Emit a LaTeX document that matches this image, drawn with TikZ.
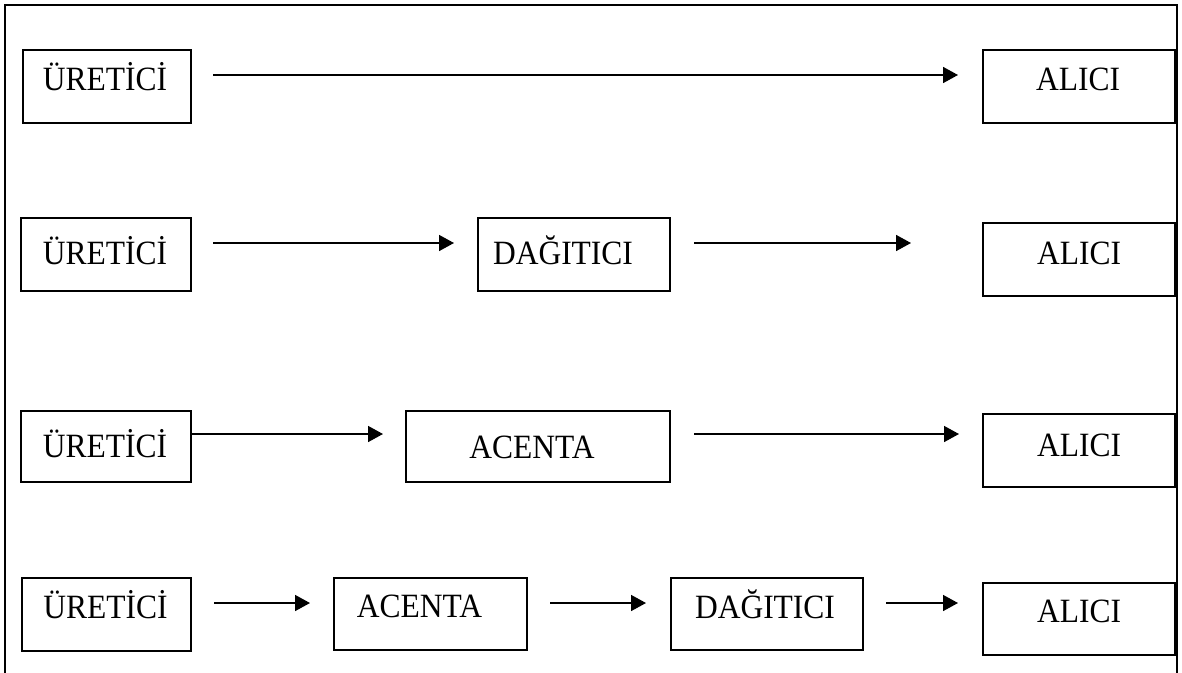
\documentclass[tikz,border=0pt]{standalone}
\usepackage{graphicx}
\usepackage{fontspec}
\setmainfont{Liberation Serif}
\usetikzlibrary{arrows.meta}
\newcommand{\boxtxt}[1]{\scalebox{1}[1.08]{#1}}
\begin{document}
\begin{tikzpicture}[x=1pt,y=-1pt,
  box/.style={draw, line width=1.5pt, inner sep=0pt, outer sep=0pt, text height=25pt,
              font=\fontsize{31.5}{36}\selectfont},
  arr/.style={line width=1.6pt, -{Triangle[length=15pt,width=16pt]}},
  frameline/.style={line width=2.6pt}]
\useasboundingbox (0,0) rectangle (1182,672);
\clip (0,0) rectangle (1182,672);
\draw[frameline] (5,700) -- (5,5) -- (1177,5) -- (1177,700);

% Row 1
\node[box, minimum width=168pt, minimum height=73pt, text depth=16.1pt] (u1) at (107,86.5) {\boxtxt{ÜRETİCİ}\hspace*{4pt}};
\node[box, minimum width=192pt, minimum height=73pt, text depth=16.1pt] (a1) at (1079,86.5) {\boxtxt{ALICI}\hspace*{2pt}};
\draw[arr] ([shift={(22,-11.5)}]u1.east) -- ([shift={(-25,-11.5)}]a1.west);

% Row 2
\node[box, minimum width=170pt, minimum height=73pt, text depth=5.1pt] (u2) at (106,254.5) {\boxtxt{ÜRETİCİ}\hspace*{2pt}};
\node[box, minimum width=192pt, minimum height=73pt, text depth=5.1pt] (d2) at (574,254.5) {\boxtxt{DAĞITICI}\hspace*{22pt}};
\node[box, minimum width=192pt, minimum height=73pt, text depth=14.1pt] (a2) at (1079,259.5) {\boxtxt{ALICI}};
\draw[arr] ([shift={(22,-11.5)}]u2.east) -- ([shift={(-24,-11.5)}]d2.west);
\draw[arr] ([shift={(24,-11.5)}]d2.east) -- ([shift={(-72,-16.5)}]a2.west);

% Row 3
\node[box, minimum width=170pt, minimum height=71pt, text depth=2.1pt] (u3) at (106,446.5) {\boxtxt{ÜRETİCİ}\hspace*{2pt}};
\node[box, minimum width=264pt, minimum height=71pt, text depth=1.1pt] (c3) at (538,446.5) {\boxtxt{ACENTA}\hspace*{12pt}};
\node[box, minimum width=192pt, minimum height=73pt, text depth=12.1pt] (a3) at (1079,450.5) {\boxtxt{ALICI}};
\draw[arr] ([shift={(0,-12.5)}]u3.east) -- ([shift={(-23,-12.5)}]c3.west);
\draw[arr] ([shift={(24,-12.5)}]c3.east) -- ([shift={(-24,-16.5)}]a3.west);

% Row 4
\node[box, minimum width=169pt, minimum height=73pt, text depth=17.1pt] (u4) at (106.5,614.5) {\boxtxt{ÜRETİCİ}\hspace*{2pt}};
\node[box, minimum width=193pt, minimum height=72pt, text depth=17.1pt] (c4) at (430.5,614) {\boxtxt{ACENTA}\hspace*{22pt}};
\node[box, minimum width=192pt, minimum height=72pt, text depth=15.1pt] (d4) at (767,614) {\boxtxt{DAĞITICI}\hspace*{4pt}};
\node[box, minimum width=192pt, minimum height=72pt, text depth=17.1pt] (a4) at (1079,619) {\boxtxt{ALICI}};
\draw[arr] ([shift={(23,-11.5)}]u4.east) -- ([shift={(-24,-11)}]c4.west);
\draw[arr] ([shift={(23,-11)}]c4.east) -- ([shift={(-25,-11)}]d4.west);
\draw[arr] ([shift={(23,-11)}]d4.east) -- ([shift={(-25,-16)}]a4.west);
\end{tikzpicture}
\end{document}
